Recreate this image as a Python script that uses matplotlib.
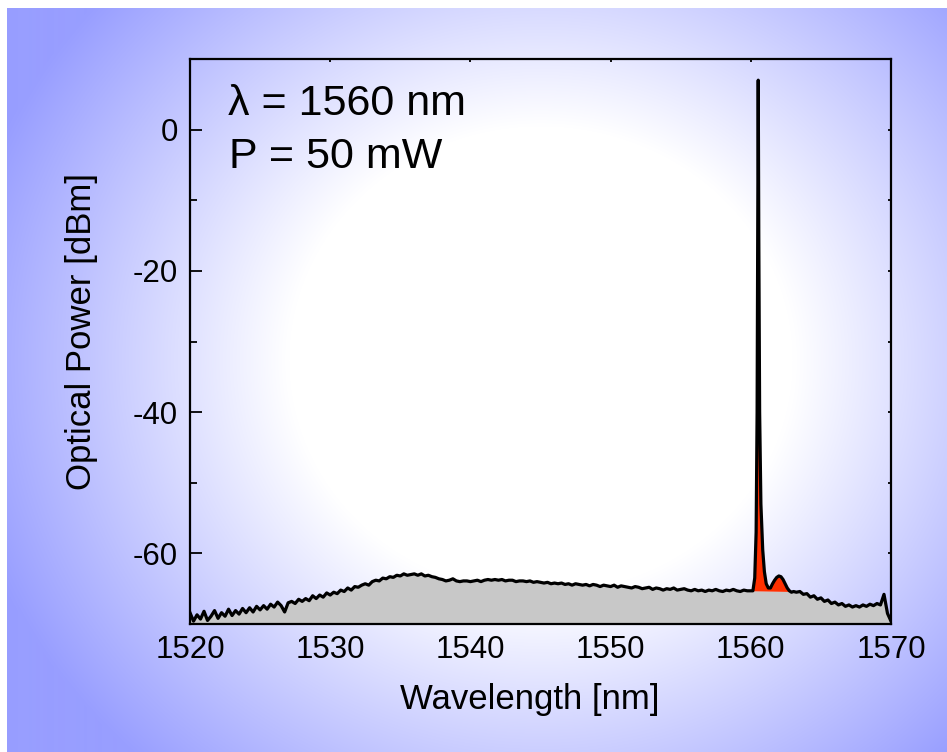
import numpy as np
import matplotlib
matplotlib.use('Agg')
import matplotlib.pyplot as plt

plt.rcParams['font.family'] = ['Liberation Sans', 'DejaVu Sans']
plt.rcParams['axes.unicode_minus'] = False

# ASE continuum 1520 - 1560 nm, 0.25 nm steps (dBm)
wl_a0, wl_step = 1520.0, 0.25
pwr_a = [
    -68.4, -69.6, -68.7, -69.3, -68.2, -69.5, -68.9, -68.1,
    -69.2, -68.4, -68.9, -67.9, -68.8, -68.1, -68.6, -67.8,
    -68.4, -67.7, -68.3, -67.5, -68.0, -67.4, -67.9, -67.2,
    -67.6, -66.9, -67.4, -68.3, -67.0, -66.8, -67.1, -66.5,
    -66.8, -66.4, -66.7, -66.0, -66.4, -65.9, -66.2, -65.6,
    -65.9, -65.5, -65.7, -65.2, -65.4, -64.9, -65.2, -64.7,
    -64.8, -64.5, -64.3, -64.5, -64.0, -63.8, -63.9, -63.5,
    -63.6, -63.3, -63.4, -63.1, -63.2, -62.9, -63.1, -63.0,
    -62.9, -63.1, -62.9, -63.2, -63.1, -63.3, -63.4, -63.6,
    -63.7, -63.9, -63.8, -63.6, -63.9, -64.0, -63.9, -63.9,
    -64.0, -63.9, -63.8, -64.0, -63.8, -63.7, -63.8, -63.7,
    -63.8, -63.7, -63.9, -63.8, -63.8, -64.0, -63.9, -63.9,
    -64.0, -63.9, -64.1, -64.0, -64.1, -64.2, -64.1, -64.3,
    -64.2, -64.3, -64.2, -64.4, -64.3, -64.5, -64.3, -64.4,
    -64.5, -64.4, -64.6, -64.4, -64.5, -64.7, -64.5, -64.6,
    -64.7, -64.5, -64.8, -64.6, -64.7, -64.8, -64.9, -64.7,
    -64.8, -65.0, -64.9, -64.8, -65.1, -64.9, -65.0, -65.2,
    -65.0, -65.1, -64.9, -65.2, -65.1, -65.0, -65.2, -65.3,
    -65.1, -65.3, -65.2, -65.4, -65.2, -65.3, -65.1, -65.3,
    -65.4, -65.2, -65.3, -65.1, -65.3, -65.4, -65.2, -65.3,
    -65.2,
]

# pump line at 1560.5 nm and its side lobe
wl_line = [1560.15, 1560.28, 1560.38, 1560.45, 1560.50, 1560.53, 1560.57,
           1560.63, 1560.72, 1560.85, 1560.97, 1561.10, 1561.25, 1561.40,
           1561.55, 1561.70, 1561.85, 1562.00, 1562.15, 1562.30, 1562.45,
           1562.60, 1562.75, 1562.90, 1563.05]
pwr_line = [-65.3, -63.5, -57.0, -40.0, -12.0, 7.0, -15.0,
            -40.0, -53.0, -59.5, -62.6, -64.3, -64.9, -64.9,
            -64.3, -63.8, -63.4, -63.2, -63.3, -63.7, -64.3,
            -64.9, -65.3, -65.5, -65.4]

# continuum 1563.25 - 1570 nm
wl_b0 = 1563.25
pwr_b = [
    -65.5, -65.4, -65.8, -65.7, -66.2, -66.0, -66.5, -66.3,
    -66.8, -66.6, -67.1, -66.9, -67.3, -67.1, -67.5, -67.3,
    -67.6, -67.4, -67.6, -67.3, -67.5, -67.2, -67.4, -67.1,
    -67.3, -65.8, -68.5, -69.6,
]

# level under the pump line separating the red area
wl_floor = [1560.15, 1563.05]
pwr_floor = [-65.3, -65.4]

W, H = 947, 752
fig = plt.figure(figsize=(W / 100, H / 100), dpi=100)

# blue-to-white background
bg = fig.add_axes([7 / W, 0, (W - 7) / W, (H - 8) / H], zorder=-5)
yy, xx = np.mgrid[8:H, 7:W].astype(float)
dx = (xx - 540) / 560
dy = (yy - 360) / 520
r = np.hypot(dx, dy)
t = np.clip((r - 0.45) / 0.6, 0, 1)[..., None]
blue = np.array([152, 158, 255]) / 255
img = 1 - t * (1 - blue)
bg.imshow(img, aspect='auto', extent=[0, 1, 0, 1])
bg.axis('off')

ax = fig.add_axes([190 / W, 1 - 624 / H, 701 / W, 565 / H])
ax.set_facecolor('none')
ax.set_axisbelow(True)

wl_a = wl_a0 + wl_step * np.arange(len(pwr_a))
wl_b = wl_b0 + wl_step * np.arange(len(pwr_b))
wl = np.concatenate([wl_a[:-1], wl_line, wl_b])
p = np.concatenate([pwr_a[:-1], pwr_line, pwr_b])

in_line = (wl >= wl_floor[0]) & (wl <= wl_floor[1])
floor = np.interp(wl, wl_floor, pwr_floor)
gray_top = np.where(in_line, np.minimum(p, floor), p)

ax.fill_between(wl, -70, gray_top, color='#c8c8c8', lw=0, zorder=1)
ax.fill_between(wl, floor, p, where=in_line & (p > floor), interpolate=True,
                color='#ff3000', lw=0, zorder=1.5)
ax.plot(wl, p, color='black', lw=2.3, zorder=3)

ax.set_xlim(1520, 1570)
ax.set_ylim(-70, 10)
ax.set_xticks([1520, 1530, 1540, 1550, 1560, 1570])
ax.set_yticks([-60, -40, -20, 0])
ax.set_yticks([-50, -30, -10], minor=True)
ax.tick_params(axis='both', which='both', direction='in', width=1.3,
               labelsize=22.5, pad=8.5, top=True, right=True, length=2)
ax.tick_params(axis='x', which='major', pad=8)
for s in ax.spines.values():
    s.set_linewidth(1.6)
    s.set_zorder(4)
# longer ticks on the left and bottom edges only
for tk in ax.yaxis.get_major_ticks():
    tk.tick1line.set_markersize(8.5)
for tk in ax.yaxis.get_minor_ticks():
    tk.tick1line.set_markersize(5)
for tk in ax.xaxis.get_major_ticks():
    tk.tick1line.set_markersize(8.5)

ax.set_xlabel('Wavelength [nm]', fontsize=25)
ax.set_ylabel('Optical Power [dBm]', fontsize=25)
ax.xaxis.set_label_coords(0.485, -0.104)
ax.yaxis.set_label_coords(-0.131, 0.517)

fig.text(228 / W, 1 - 115 / H, 'λ = 1560 nm', fontsize=31, va='baseline')
fig.text(229 / W, 1 - 168 / H, 'P = 50 mW', fontsize=31, va='baseline')

fig.savefig('out.png', dpi=100)
